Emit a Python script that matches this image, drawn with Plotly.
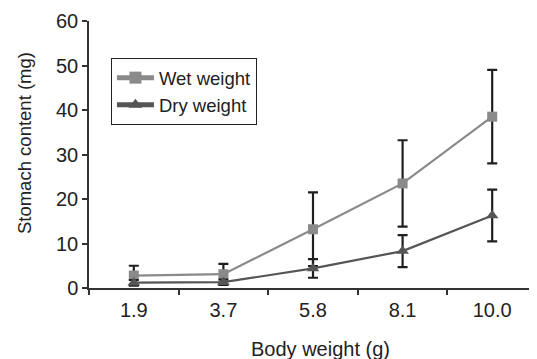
import plotly.graph_objects as go

categories = ["1.9", "3.7", "5.8", "8.1", "10.0"]
wet = [2.8, 3.1, 13.2, 23.5, 38.5]
wet_err = [2.2, 2.3, 8.3, 9.7, 10.5]
dry = [1.2, 1.3, 4.4, 8.3, 16.3]
dry_err = [0.6, 0.6, 2.1, 3.6, 5.8]

font = "Liberation Sans, Arial, sans-serif"
fig = go.Figure()
fig.add_trace(go.Scatter(
    x=categories, y=wet, name="Wet weight", mode="lines+markers",
    line=dict(color="#8a8a8a", width=2.2),
    marker=dict(symbol="square", size=10, color="#8a8a8a"),
    error_y=dict(type="data", array=wet_err, visible=True, color="#1f1f1f", thickness=2.2, width=5),
))
fig.add_trace(go.Scatter(
    x=categories, y=dry, name="Dry weight", mode="lines+markers",
    line=dict(color="#555555", width=2.2),
    marker=dict(symbol="triangle-up", size=11, color="#555555"),
    error_y=dict(type="data", array=dry_err, visible=True, color="#1f1f1f", thickness=2.2, width=5),
))
fig.update_layout(
    width=529, height=351,
    margin=dict(l=81, r=0, t=13, b=71),
    paper_bgcolor="white", plot_bgcolor="white",
    font=dict(family=font, size=19, color="#222222"),
    showlegend=True,
    legend=dict(x=0.049, y=0.861, xanchor="left", yanchor="top",
                bordercolor="#222222", borderwidth=1, bgcolor="white",
                font=dict(size=18.5), tracegroupgap=0, itemsizing="constant", itemwidth=37),
    xaxis=dict(type="category", range=[-0.5, 4.5], showline=True, linecolor="#333333", linewidth=1.5,
               ticks="outside", tickson="boundaries", ticklen=5, tickcolor="#333333", tickwidth=1.5,
               showgrid=False, zeroline=False, tickfont=dict(size=20), ticklabelstandoff=3),
    yaxis=dict(range=[0, 60], dtick=10, showline=True, linecolor="#333333", linewidth=1.5,
               ticks="outside", ticklen=5, tickcolor="#333333", tickwidth=1.5,
               showgrid=False, zeroline=False, tickfont=dict(size=20)),
    annotations=[
        dict(text="Body weight (g)", xref="paper", yref="paper", x=0.516, y=-0.2266,
             xanchor="center", yanchor="middle", showarrow=False, font=dict(size=20)),
        dict(text="Stomach content (mg)", xref="paper", yref="paper", x=-0.145, y=0.543,
             xanchor="center", yanchor="middle", textangle=-90, showarrow=False, font=dict(size=18.5)),
    ],
)
fig.write_html("out.html")
